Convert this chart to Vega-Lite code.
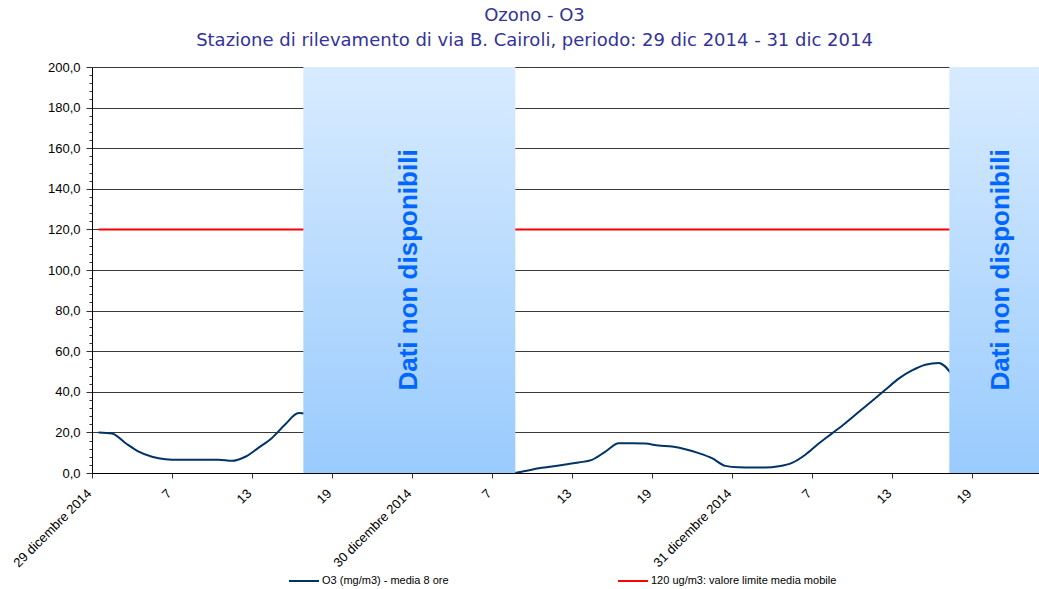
{
  "$schema": "https://vega.github.io/schema/vega-lite/v6.json",
  "autosize": {"type": "none"},
  "width": 947,
  "height": 406,
  "padding": {"left": 92, "top": 67, "right": 0, "bottom": 116},
  "background": "white",
  "config": {"view": {"stroke": null}},
  "title": {
    "text": "Ozono - O3",
    "subtitle": "Stazione di rilevamento di via B. Cairoli, periodo: 29 dic 2014 - 31 dic 2014",
    "color": "#333399",
    "subtitleColor": "#333399",
    "font": "DejaVu Sans",
    "subtitleFont": "DejaVu Sans",
    "fontSize": 18,
    "subtitleFontSize": 18,
    "fontWeight": "normal",
    "anchor": "middle",
    "frame": "group",
    "dx": -31,
    "offset": 11,
    "subtitlePadding": 7
  },
  "datasets": {
    "limite": [
      {"ora": 0, "valore": 120, "serie": "120 ug/m3: valore limite media mobile"},
      {"ora": 71, "valore": 120, "serie": "120 ug/m3: valore limite media mobile"}
    ],
    "o3": [
      {"ora": 0, "valore": 20.0, "serie": "O3 (mg/m3) - media 8 ore"},
      {"ora": 1, "valore": 19.5, "serie": "O3 (mg/m3) - media 8 ore"},
      {"ora": 2, "valore": 14.8, "serie": "O3 (mg/m3) - media 8 ore"},
      {"ora": 3, "valore": 10.5, "serie": "O3 (mg/m3) - media 8 ore"},
      {"ora": 4, "valore": 8.0, "serie": "O3 (mg/m3) - media 8 ore"},
      {"ora": 5, "valore": 6.8, "serie": "O3 (mg/m3) - media 8 ore"},
      {"ora": 6, "valore": 6.5, "serie": "O3 (mg/m3) - media 8 ore"},
      {"ora": 7, "valore": 6.5, "serie": "O3 (mg/m3) - media 8 ore"},
      {"ora": 8, "valore": 6.5, "serie": "O3 (mg/m3) - media 8 ore"},
      {"ora": 9, "valore": 6.5, "serie": "O3 (mg/m3) - media 8 ore"},
      {"ora": 10, "valore": 6.0, "serie": "O3 (mg/m3) - media 8 ore"},
      {"ora": 11, "valore": 8.0, "serie": "O3 (mg/m3) - media 8 ore"},
      {"ora": 12, "valore": 12.5, "serie": "O3 (mg/m3) - media 8 ore"},
      {"ora": 13, "valore": 17.3, "serie": "O3 (mg/m3) - media 8 ore"},
      {"ora": 14, "valore": 24.0, "serie": "O3 (mg/m3) - media 8 ore"},
      {"ora": 15, "valore": 29.5, "serie": "O3 (mg/m3) - media 8 ore"},
      {"ora": 24, "valore": 0, "serie": "O3 (mg/m3) - media 8 ore"},
      {"ora": 25, "valore": 0, "serie": "O3 (mg/m3) - media 8 ore"},
      {"ora": 26, "valore": 0, "serie": "O3 (mg/m3) - media 8 ore"},
      {"ora": 27, "valore": 0, "serie": "O3 (mg/m3) - media 8 ore"},
      {"ora": 28, "valore": 0, "serie": "O3 (mg/m3) - media 8 ore"},
      {"ora": 29, "valore": 0, "serie": "O3 (mg/m3) - media 8 ore"},
      {"ora": 30, "valore": 0, "serie": "O3 (mg/m3) - media 8 ore"},
      {"ora": 31, "valore": 0, "serie": "O3 (mg/m3) - media 8 ore"},
      {"ora": 32, "valore": 1.0, "serie": "O3 (mg/m3) - media 8 ore"},
      {"ora": 33, "valore": 2.3, "serie": "O3 (mg/m3) - media 8 ore"},
      {"ora": 34, "valore": 3.2, "serie": "O3 (mg/m3) - media 8 ore"},
      {"ora": 35, "valore": 4.2, "serie": "O3 (mg/m3) - media 8 ore"},
      {"ora": 36, "valore": 5.2, "serie": "O3 (mg/m3) - media 8 ore"},
      {"ora": 37, "valore": 6.5, "serie": "O3 (mg/m3) - media 8 ore"},
      {"ora": 38, "valore": 10.5, "serie": "O3 (mg/m3) - media 8 ore"},
      {"ora": 39, "valore": 14.6, "serie": "O3 (mg/m3) - media 8 ore"},
      {"ora": 40, "valore": 14.7, "serie": "O3 (mg/m3) - media 8 ore"},
      {"ora": 41, "valore": 14.5, "serie": "O3 (mg/m3) - media 8 ore"},
      {"ora": 42, "valore": 13.5, "serie": "O3 (mg/m3) - media 8 ore"},
      {"ora": 43, "valore": 13.0, "serie": "O3 (mg/m3) - media 8 ore"},
      {"ora": 44, "valore": 11.7, "serie": "O3 (mg/m3) - media 8 ore"},
      {"ora": 45, "valore": 9.8, "serie": "O3 (mg/m3) - media 8 ore"},
      {"ora": 46, "valore": 7.3, "serie": "O3 (mg/m3) - media 8 ore"},
      {"ora": 47, "valore": 3.5, "serie": "O3 (mg/m3) - media 8 ore"},
      {"ora": 48, "valore": 2.8, "serie": "O3 (mg/m3) - media 8 ore"},
      {"ora": 49, "valore": 2.7, "serie": "O3 (mg/m3) - media 8 ore"},
      {"ora": 50, "valore": 2.7, "serie": "O3 (mg/m3) - media 8 ore"},
      {"ora": 51, "valore": 3.3, "serie": "O3 (mg/m3) - media 8 ore"},
      {"ora": 52, "valore": 5.0, "serie": "O3 (mg/m3) - media 8 ore"},
      {"ora": 53, "valore": 9.0, "serie": "O3 (mg/m3) - media 8 ore"},
      {"ora": 54, "valore": 14.5, "serie": "O3 (mg/m3) - media 8 ore"},
      {"ora": 55, "valore": 19.5, "serie": "O3 (mg/m3) - media 8 ore"},
      {"ora": 56, "valore": 24.5, "serie": "O3 (mg/m3) - media 8 ore"},
      {"ora": 57, "valore": 30.0, "serie": "O3 (mg/m3) - media 8 ore"},
      {"ora": 58, "valore": 35.5, "serie": "O3 (mg/m3) - media 8 ore"},
      {"ora": 59, "valore": 41.0, "serie": "O3 (mg/m3) - media 8 ore"},
      {"ora": 60, "valore": 46.5, "serie": "O3 (mg/m3) - media 8 ore"},
      {"ora": 61, "valore": 50.5, "serie": "O3 (mg/m3) - media 8 ore"},
      {"ora": 62, "valore": 53.3, "serie": "O3 (mg/m3) - media 8 ore"},
      {"ora": 63, "valore": 54.2, "serie": "O3 (mg/m3) - media 8 ore"},
      {"ora": 64, "valore": 48.5, "serie": "O3 (mg/m3) - media 8 ore"}
    ],
    "bande": [
      {"inizio": 15.35, "fine": 31.25, "centro": 23.3, "testo": "Dati non disponibili"},
      {"inizio": 63.8, "fine": 71.5, "centro": 67.65, "testo": "Dati non disponibili"}
    ]
  },
  "layer": [
    {
      "data": {"name": "limite"},
      "mark": {"type": "line", "strokeWidth": 2},
      "encoding": {
        "x": {
          "field": "ora",
          "type": "quantitative",
          "scale": {"domain": [-0.5, 70.525], "nice": false, "zero": false},
          "axis": {
            "title": null,
            "values": [-0.5, 5.5, 11.5, 17.5, 23.5, 29.5, 35.5, 41.5, 47.5, 53.5, 59.5, 65.5],
            "tickCount": 100,
            "labelExpr": "datum.value == -0.5 ? '29 dicembre 2014' : datum.value == 23.5 ? '30 dicembre 2014' : datum.value == 47.5 ? '31 dicembre 2014' : '' + (((datum.value + 0.5) % 24) + 1)",
            "labelAngle": -45,
            "labelAlign": "right",
            "labelBaseline": "middle",
            "labelFont": "Liberation Sans",
            "labelFontSize": 13,
            "labelColor": "#000000",
            "labelOverlap": false,
            "labelFlush": false,
            "labelPadding": 13,
            "labelOffset": -3,
            "grid": false,
            "tickSize": 5,
            "tickColor": "#333333",
            "domainColor": "#000000",
            "zindex": 1
          }
        },
        "y": {
          "field": "valore",
          "type": "quantitative",
          "scale": {"domain": [0, 200], "nice": false},
          "axis": {
            "title": null,
            "values": [0,4,8,12,16,20,24,28,32,36,40,44,48,52,56,60,64,68,72,76,80,84,88,92,96,100,104,108,112,116,120,124,128,132,136,140,144,148,152,156,160,164,168,172,176,180,184,188,192,196,200],
            "tickCount": 200,
            "labelExpr": "datum.value % 20 === 0 ? replace(format(datum.value, '.1f'), '.', ',') : ''",
            "labelOverlap": false,
            "labelFlush": false,
            "labelFont": "Liberation Sans",
            "labelFontSize": 13,
            "labelColor": "#000000",
            "labelPadding": 6,
            "tickSize": {"condition": {"test": "datum.value % 20 === 0", "value": 6}, "value": 3},
            "tickColor": "#333333",
            "domainColor": "#000000",
            "grid": true,
            "gridColor": "#3a3a3a",
            "gridOpacity": {"condition": {"test": "datum.value % 20 === 0 && datum.value > 0", "value": 1}, "value": 0}
          }
        },
        "color": {
          "field": "serie",
          "type": "nominal",
          "scale": {
            "domain": ["O3 (mg/m3) - media 8 ore", "120 ug/m3: valore limite media mobile"],
            "range": ["#003366", "#FF0000"]
          },
          "legend": {
            "title": null,
            "orient": "none",
            "legendX": 196,
            "legendY": 498,
            "direction": "horizontal",
            "symbolType": "stroke",
            "symbolSize": 900,
            "symbolStrokeWidth": 2,
            "labelFont": "Liberation Sans",
            "labelFontSize": 11,
            "labelColor": "#000000",
            "labelOffset": 2,
            "labelLimit": 400,
            "columnPadding": 165
          }
        }
      }
    },
    {
      "data": {"name": "o3"},
      "mark": {"type": "line", "strokeWidth": 2, "interpolate": "monotone"},
      "encoding": {
        "x": {"field": "ora", "type": "quantitative"},
        "y": {"field": "valore", "type": "quantitative"},
        "color": {"field": "serie", "type": "nominal"}
      }
    },
    {
      "data": {"name": "bande"},
      "mark": {
        "type": "rect",
        "clip": true,
        "fill": {
          "gradient": "linear",
          "x1": 0, "y1": 0, "x2": 0, "y2": 1,
          "stops": [
            {"offset": 0, "color": "#D8EBFF"},
            {"offset": 1, "color": "#99CBFD"}
          ]
        }
      },
      "encoding": {
        "x": {"field": "inizio", "type": "quantitative"},
        "x2": {"field": "fine"},
        "y": {"datum": 200, "type": "quantitative"},
        "y2": {"datum": 0}
      }
    },
    {
      "data": {"name": "bande"},
      "mark": {
        "type": "text",
        "angle": 270,
        "font": "Liberation Sans",
        "fontSize": 26,
        "fontWeight": "bold",
        "color": "#0066FF",
        "align": "center",
        "baseline": "middle"
      },
      "encoding": {
        "x": {"field": "centro", "type": "quantitative"},
        "y": {"datum": 100, "type": "quantitative"},
        "text": {"field": "testo"}
      }
    }
  ]
}
